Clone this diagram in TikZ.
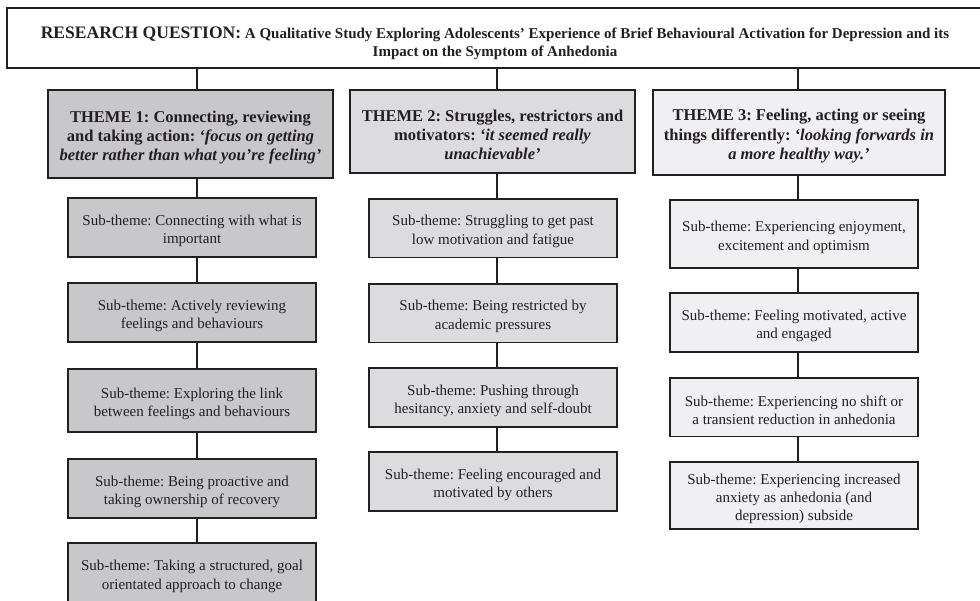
\documentclass[tikz,border=0pt]{standalone}
\usepackage{fontspec}
\setmainfont{Liberation Serif}
\frenchspacing
\definecolor{ink}{HTML}{231F20}
\definecolor{greyA}{HTML}{C8C8CA}
\definecolor{greyB}{HTML}{DCDCDE}
\definecolor{greyC}{HTML}{F0F0F2}
\newcommand{\substrut}{\rule{0pt}{11.3pt}}
\newcommand{\themestrut}{\rule{0pt}{12.5pt}}
\tikzset{
    box/.style={draw=ink, line width=1.3pt, text=ink, align=center, inner sep=2pt},
    theme/.style={box, font=\fontsize{11}{12.8}\selectfont\bfseries},
    sub/.style={box, minimum width=165.3pt, minimum height=39.3pt, font=\fontsize{10}{12.2}\selectfont},
    link/.style={draw=ink, line width=0.9pt}
}

\begin{document}
\begin{tikzpicture}[x=0.6667pt, y=-0.6667pt]
    \useasboundingbox (0,0) rectangle (980,600);
    \node[box, minimum width=650.7pt, minimum height=40pt] (rq) at (495,38)
        {\rule{0pt}{14.5pt}{\fontsize{11.7}{12}\selectfont\bfseries RESEARCH QUESTION:} {\fontsize{10}{12}\selectfont\bfseries A Qualitative Study Exploring Adolescents' Experience of Brief Behavioural Activation for Depression and its}\\
         {\fontsize{10}{12}\selectfont\bfseries Impact on the Symptom of Anhedonia}};

    \coordinate (c1) at (197,0);
    \coordinate (c2) at (497,0);
    \coordinate (c3) at (798,0);

    \node[theme, fill=greyA, minimum width=190pt, minimum height=58.7pt] (t1) at (190.5,134)
        {\themestrut THEME 1: Connecting, reviewing\\ and taking action: \textit{`focus on getting}\\ \textit{better rather than what you're feeling'}};
    \node[theme, fill=greyB, minimum width=190pt, minimum height=55.5pt] (t2) at (492.5,131.5)
        {\themestrut THEME 2: Struggles, restrictors and\\ motivators: \textit{`it seemed really}\\ \textit{unachievable'}};
    \node[theme, fill=greyC, minimum width=194.7pt, minimum height=56.7pt] (t3) at (799,132.5)
        {\themestrut THEME 3: Feeling, acting or seeing\\ things differently: \textit{`looking forwards in}\\ \textit{a more healthy way.'}};

    \node[sub, fill=greyA] (s11) at (192,227.5) {\substrut Sub-theme: Connecting with what is\\ important};
    \node[sub, fill=greyA] (s12) at (192,312.5) {\substrut Sub-theme: Actively reviewing\\ feelings and behaviours};
    \node[sub, fill=greyA, minimum height=42pt] (s13) at (192,400.5) {\substrut Sub-theme: Exploring the link\\ between feelings and behaviours};
    \node[sub, fill=greyA] (s14) at (192,488.5) {\substrut Sub-theme: Being proactive and\\ taking ownership of recovery};
    \node[sub, fill=greyA, minimum height=40pt] (s15) at (192,573) {\substrut Sub-theme: Taking a structured, goal\\ orientated approach to change};

    \node[sub, fill=greyB] (s21) at (493,228) {\substrut Sub-theme: Struggling to get past\\ low motivation and fatigue};
    \node[sub, fill=greyB] (s22) at (493,313) {\substrut Sub-theme: Being restricted by\\ academic pressures};
    \node[sub, fill=greyB] (s23) at (493,397.5) {\substrut Sub-theme: Pushing through\\ hesitancy, anxiety and self-doubt};
    \node[sub, fill=greyB] (s24) at (493,481.5) {\substrut Sub-theme: Feeling encouraged and\\ motivated by others};

    \node[sub, fill=greyC, minimum height=45.3pt] (s31) at (794,234) {\substrut Sub-theme: Experiencing enjoyment,\\ excitement and optimism};
    \node[sub, fill=greyC] (s32) at (794,322.5) {\substrut Sub-theme: Feeling motivated, active\\ and engaged};
    \node[sub, fill=greyC] (s33) at (794,407) {\substrut Sub-theme: Experiencing no shift or\\ a transient reduction in anhedonia};
    \node[sub, fill=greyC, minimum height=44.7pt] (s34) at (794,495.5) {\substrut Sub-theme: Experiencing increased\\ anxiety as anhedonia (and\\ depression) subside};

    \draw[link] (rq.south -| c1) -- (t1.north -| c1);
    \draw[link] (rq.south -| c2) -- (t2.north -| c2);
    \draw[link] (rq.south -| c3) -- (t3.north -| c3);

    \draw[link] (t1.south -| c1) -- (s11.north -| c1);
    \draw[link] (s11.south -| c1) -- (s12.north -| c1);
    \draw[link] (s12.south -| c1) -- (s13.north -| c1);
    \draw[link] (s13.south -| c1) -- (s14.north -| c1);
    \draw[link] (s14.south -| c1) -- (s15.north -| c1);

    \draw[link] (t2.south -| c2) -- (s21.north -| c2);
    \draw[link] (s21.south -| c2) -- (s22.north -| c2);
    \draw[link] (s22.south -| c2) -- (s23.north -| c2);
    \draw[link] (s23.south -| c2) -- (s24.north -| c2);

    \draw[link] (t3.south -| c3) -- (s31.north -| c3);
    \draw[link] (s31.south -| c3) -- (s32.north -| c3);
    \draw[link] (s32.south -| c3) -- (s33.north -| c3);
    \draw[link] (s33.south -| c3) -- (s34.north -| c3);
\end{tikzpicture}
\end{document}
